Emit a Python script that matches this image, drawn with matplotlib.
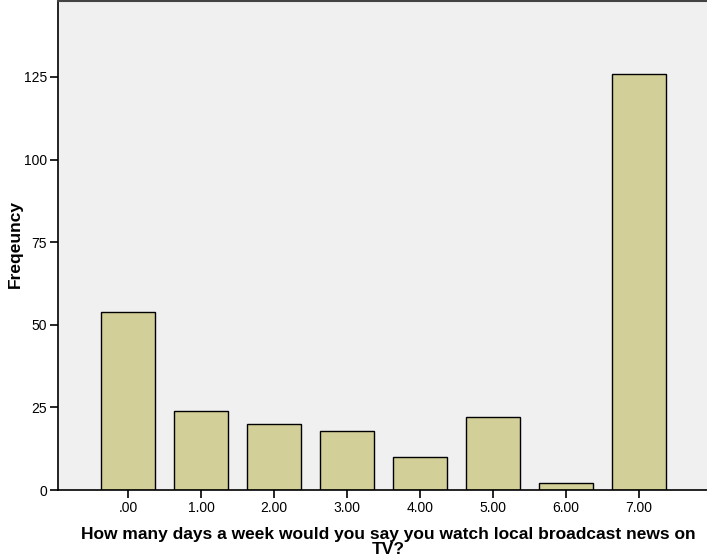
import matplotlib
matplotlib.use('Agg')
import matplotlib.pyplot as plt

categories = ['.00', '1.00', '2.00', '3.00', '4.00', '5.00', '6.00', '7.00']
counts = [54, 24, 20, 18, 10, 22, 2, 126]
yticks = [0, 25, 50, 75, 100, 125]

plt.rcParams['font.family'] = ['Liberation Sans', 'DejaVu Sans']

fig = plt.figure(figsize=(7.07, 5.6), dpi=100, facecolor='white')
ax = fig.add_axes([58 / 707, 70 / 560, 649 / 707, 489 / 560])
ax.set_facecolor('#F0F0F0')

x = list(range(len(categories)))
ax.bar(x, counts, width=0.75, color='#D3CF98', edgecolor='black', linewidth=1.0, zorder=2)

ax.set_xlim(-0.96, 7.93)
ax.set_ylim(0, 148)
ax.set_xticks(x)
ax.set_xticklabels(categories, fontsize=10)
ax.set_yticks(yticks)
ax.set_yticklabels([str(v) for v in yticks], fontsize=10)
ax.tick_params(axis='both', direction='out', length=6, width=1.2, color='black', pad=2)

for s in ax.spines.values():
    s.set_color('black')
    s.set_linewidth(1.0)
ax.spines['bottom'].set_linewidth(1.2)
ax.spines['left'].set_linewidth(1.2)
ax.spines['top'].set_color('#444444')
ax.spines['top'].set_linewidth(1.5)
ax.spines['right'].set_visible(False)   # frame runs off the image on the right

# y label placed by hand so it doesn't clip at the left edge
fig.text(15 / 707, 1 - 244 / 560, 'Freqeuncy', rotation=90, fontsize=12.5,
         fontweight='bold', ha='center', va='center')
fig.text(388 / 707, 1 - 542 / 560,
         'How many days a week would you say you watch local broadcast news on\nTV?',
         fontsize=12.5, fontweight='bold', ha='center', va='center', linespacing=1.0)

fig.savefig('out.png', dpi=100, facecolor='white')
